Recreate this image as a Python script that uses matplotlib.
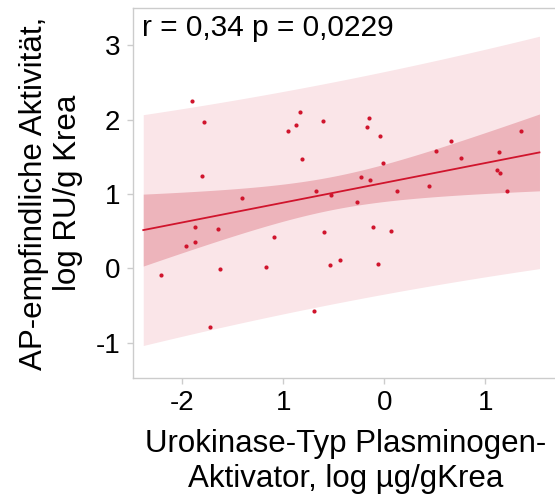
import numpy as np
import matplotlib
matplotlib.use("Agg")
import matplotlib.pyplot as plt

plt.rcParams['font.family'] = ['Liberation Sans', 'DejaVu Sans']

x_vals = [-1.903, -1.787, -1.804, -2.210, -1.962, -1.873, -1.873, -1.645, -1.628, -1.725,
          -1.413, -1.169, -1.090, -0.954, -0.878, -0.833, -0.816, -0.605, -0.674, -0.700,
          -0.595, -0.541, -0.525, -0.436, -0.268, -0.231, -0.171, -0.155, -0.145, -0.115,
          -0.065, -0.046, -0.010, 0.069, 0.129, 0.446, 0.509, 0.661, 0.757, 1.134,
          1.117, 1.144, 1.216, 1.358]
y_vals = [2.256, 1.973, 1.246, -0.094, 0.304, 0.560, 0.358, 0.525, -0.005, -0.790,
          0.950, 0.022, 0.421, 1.844, 1.929, 2.100, 1.467, 1.983, 1.040, -0.575,
          0.485, 0.044, 0.987, 0.112, 0.888, 1.233, 1.906, 2.023, 1.184, 0.560,
          0.058, 1.777, 1.413, 0.498, 1.040, 1.108, 1.583, 1.713, 1.480, 1.569,
          1.327, 1.287, 1.040, 1.852]
x_ticks = [-2, -1, 0, 1]
x_ticklabels = ['-2', '1', '0', '1']
y_ticks = [-1, 0, 1, 2, 3]
y_ticklabels = ['-1', '0', '1', '2', '3']
annotation = "r = 0,34 p = 0,0229"
xlabel = "Urokinase-Typ Plasminogen-\nAktivator, log µg/gKrea"
ylabel = "AP-empfindliche Aktivität,\nlog RU/g Krea"

x = np.array(x_vals)
y = np.array(y_vals)
n = len(x)
b1, b0 = np.polyfit(x, y, 1)
resid = y - (b0 + b1 * x)
s = np.sqrt(np.sum(resid ** 2) / (n - 2))
tval = 2.018
span = x.max() - x.min()
xs = np.linspace(x.min() - 0.05 * span, x.max() + 0.05 * span, 200)
yhat = b0 + b1 * xs
sxx = np.sum((x - x.mean()) ** 2)
se_mean = s * np.sqrt(1 / n + (xs - x.mean()) ** 2 / sxx)
se_pred = s * np.sqrt(1 + 1 / n + (xs - x.mean()) ** 2 / sxx)

fig = plt.figure(figsize=(5.55, 5.01), dpi=100)
ax = fig.add_axes([133 / 555, 1 - 378 / 501, 425 / 555, 370 / 501])

ax.fill_between(xs, yhat - tval * se_pred, yhat + tval * se_pred, color='#fae5e8', lw=0)
ax.fill_between(xs, yhat - tval * se_mean, yhat + tval * se_mean, color='#edb4bb', lw=0)
ax.plot(xs, yhat, color='#d0142c', lw=1.3)
ax.scatter(x, y, s=9, color='#d0142c', zorder=3, lw=0)

ax.set_xlim(-2.49, 1.72)
ax.set_ylim(-1.476, 3.503)
ax.set_xticks(x_ticks)
ax.set_xticklabels(x_ticklabels)
ax.set_yticks(y_ticks)
ax.set_yticklabels(y_ticklabels)
for sp in ax.spines.values():
    sp.set_color('#cccccc')
    sp.set_linewidth(1)
ax.tick_params(colors='#cccccc', labelcolor='black', labelsize=20, length=4, width=1, pad=5)

ax.text(0.02, 0.985, annotation, transform=ax.transAxes, ha='left', va='top', fontsize=21.5)
ax.set_xlabel(xlabel, fontsize=22.5, linespacing=1.2, labelpad=9)
ax.set_ylabel(ylabel, fontsize=22.5, linespacing=1.2, labelpad=9)

fig.savefig('out.png', dpi=100)
